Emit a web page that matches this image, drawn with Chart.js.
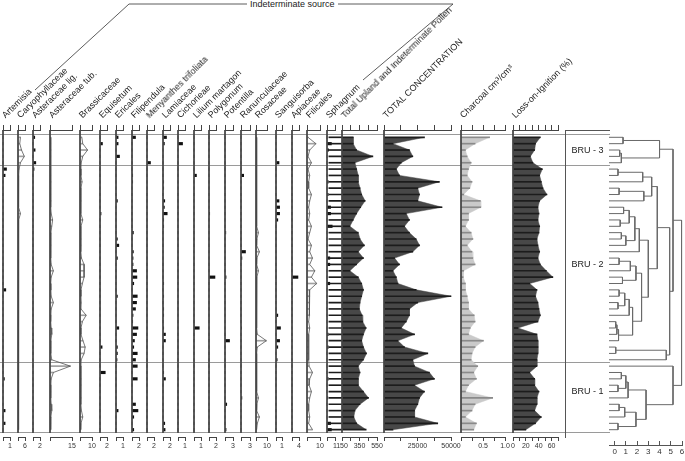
<!DOCTYPE html>
<html>
<head>
<meta charset="utf-8">
<script src="https://cdn.jsdelivr.net/npm/chart.js@4.4.1/dist/chart.umd.min.js"></script>
<style>
body { margin:0; background:#fff; font-family: Arial, "Liberation Sans", sans-serif; }
#page { position:relative; width:685px; height:461px; overflow:hidden; background:#fff; }
.box { position:absolute; }
.lbl { position:absolute; font-size:9px; line-height:10px; color:#222; white-space:nowrap; transform-origin:0 100%; transform:rotate(-45deg); }
.title { position:absolute; font-size:9px; line-height:10px; color:#222; white-space:nowrap; }
svg { position:absolute; left:0; top:0; }
</style>
</head>
<body>
<div id="page">
  <svg width="685" height="130">
    <polyline points="35,90 129,4 247,4" fill="none" stroke="#333" stroke-width="0.8"/>
    <polyline points="338,4 453,4 363,80" fill="none" stroke="#333" stroke-width="0.8"/>
  </svg>
  <div class="title" style="left:250px;top:-1px">Indeterminate source</div>
</div>
<script>
// sample number down the core (0 = top)
const depth = [0,1,2,3,4,5,6,7,8,9,10,11,12,13,14,15,16,17,18,19,20,21,22,23,24,25,26,27,28,29,30,31,32,33,34,35,36,37,38,39,40,41,42,43,44,45,46];

const zoneBounds = [-0.5, 4.5, 35.5, 46.5];
const zoneNames = ['BRU - 3', 'BRU - 2', 'BRU - 1'];
const zoneLabelAt = [2, 20, 40];

const artemisia = [0,0,0,0,0,.5,.3,0,0,0, 0,0,0,0,0,0,0,0,0,0, 0,0,0,0,.4,0,0,0,0,0, 0,0,0,0,0,0,0,0,.2,0, 0,0,0,.3,0,.3,0];
const caryophyllaceae = [2.1,1.5,3,5.4,2.1,.9,.6,.5,.5,.5, .5,.5,2.1,.6,.5,.5,.5,.5,.5,.5, .5,.5,.5,.5,.5,.5,.5,.5,.5,.5, .5,.5,.5,.5,.5,.5,.6,.5,.5,.5, .5,.5,.5,.5,.5,.5,.5];
const asteraceaeLig = [.5,0,.6,0,.8,.3,0,0,0,0, 0,0,0,0,0,0,0,0,0,0, 0,0,0,0,0,0,0,0,0,0, 0,0,0,0,0,0,0,0,0,0, 0,0,0,0,0,0,0];
const asteraceaeTub = [.5,.5,.6,.5,.4,.5,.5,.6,.5,.5, .6,.5,.8,1.8,1.2,.6,.5,.6,.5,.5, .8,2.3,.8,.5,.6,.8,2.3,.8,.6,.5, .8,1.2,.6,.5,.6,1.2,13.9,2.3,.8,.6, .5,.6,.8,1.2,.6,.5,.5];
const brassicaceae = [1.5,2.3,6.3,2.3,1,.8,.8,1.7,.8,.6, .8,.6,.8,2.3,.8,.6,.8,.8,.6,1.2, 3.4,3.4,3.4,2,.8,.8,1,.8,5.1,2, .8,.8,2.5,4.3,3.4,1,.8,.6,.8,.8, .6,.8,.8,1.2,2.3,.8,.6];
const equisetum = [0,.7,0,0,0,0,0,0,0,0, 0,0,.3,0,0,0,0,0,0,0, 0,0,0,0,0,0,0,0,0,0, 0,0,0,.6,0,0,0,1.5,0,0, 0,0,0,0,0,0,0];
const ericales = [.3,.3,0,.5,0,0,0,0,0,0, .2,0,0,0,0,0,.2,.4,0,.2, 0,0,0,0,0,.2,0,0,0,0, .4,0,0,.2,.2,.15,0,0,0,0, 0,0,0,.3,0,0,0];
const filipendula = [1,0,0,0,0,0,.2,.2,0,0, 0,0,0,0,0,.4,0,0,.4,.3, .3,1.3,1.4,.5,0,1.5,1.3,1,.3,.2, 1.7,1.3,.7,.5,1.5,1,1.5,0,1.5,0, 0,0,1,1.7,.5,0,.5];
const menyanthes = [0,0,0,0,1,0,0,0,0,0, 0,0,0,0,0,0,0,0,0,0, 0,0,0,0,0,0,0,0,0,0, 0,0,0,0,0,0,0,0,0,0, 0,0,0,0,0,0,0];
const lamiaceae = [1,.4,0,0,0,0,0,.2,.2,0, .5,.4,1.2,.2,.2,0,0,0,0,0, 0,0,0,.2,0,.2,0,.2,.2,0, .2,.7,.7,0,0,0,0,.2,.7,0, 0,0,0,0,0,.5,.6];
const cichorieae = [0,.65,0,0,0,0,0,0,0,0, 0,0,0,0,0,0,0,0,0,0, 0,0,0,0,0,0,0,0,0,0, 0,0,0,0,0,0,0,0,0,0, 0,0,0,0,0,0,0];
const lilium = [0,0,0,0,0,0,.35,0,0,0, 0,0,0,0,0,0,0,0,0,0, 0,0,0,0,0,0,0,0,0,0, .75,0,0,0,0,0,0,0,0,0, 0,0,0,0,0,0,0];
const polygonum = [0,0,0,0,0,0,0,0,0,0, 0,0,.2,0,0,0,0,0,0,0, 0,0,1.7,0,0,0,0,0,0,0, 0,0,0,0,0,0,0,0,0,0, 0,0,0,0,0,0,0];
const potentilla = [0,0,0,0,0,0,0,0,0,0, 0,0,0,0,0,.3,0,0,0,0, 0,0,.4,0,0,0,0,0,0,0, 0,0,1.7,0,0,0,0,0,0,0, 0,0,.65,0,0,0,.4];
const ranunculaceae = [0,0,0,0,0,0,.9,0,0,0, 0,0,0,0,0,0,0,0,1.5,.3, 0,0,0,0,0,0,0,0,0,0, .2,0,0,0,0,0,0,0,0,0, 0,.3,0,0,0,0,0];
const rosaceae = [.6,.6,.6,.6,.6,.6,.6,.6,.6,.6, .6,.6,.6,.6,.6,2.2,.8,.6,3.1,.8, .6,2.2,.8,.6,.6,.6,.6,.6,.6,.6, .6,1.2,9.4,1.2,.6,.6,.6,.6,.6,.6, .6,2.2,.8,.6,3.1,1.2,.6];
const sanguisorba = [0,0,0,0,.5,0,0,0,0,0, .5,.6,.6,.3,0,0,0,0,0,0, 0,0,0,0,0,0,0,0,.3,0, .75,0,.6,.3,0,.2,0,0,0,0, 0,0,0,0,0,0,0];
const apiaceae = [0,0,0,0,0,0,0,0,0,0, 0,0,0,0,0,0,0,0,0,0, 0,0,3.4,0,0,0,0,0,0,0, 0,0,0,0,0,0,0,0,0,0, 0,0,0,0,0,0,0];
const filicales = [.8,6.8,2.1,.8,3.4,.8,2.1,1.3,1.3,3.4, 2.1,1.3,2.1,1.3,3.4,2.1,.8,3.4,2.1,4.2, 2.1,6,3.4,7.4,2.1,2.1,1.6,1.6,2.1,1.3, 2.1,1.3,1.3,1.3,1.3,1.3,1.6,4.2,2.1,1.6, 3.4,2.1,1.3,1.3,2.1,1.3,4.2];
const sphagnum = [0,.55,.2,0,0,0,0,.15,0,.15, 0,.45,.45,0,.65,0,0,0,0,.35, .35,0,0,.35,0,0,0,0,0,0, 0,.15,0,.15,0,0,0,0,.15,0, 0,.1,0,0,0,.45,.55];

const totalUpland = [278,278,317,503,298,317,336,336,356,375, 414,364,317,278,240,336,356,406,336,395, 317,240,336,375,395,375,356,348,380,387, 426,395,375,395,430,395,336,356,336,336, 395,453,356,298,285,317,426];
const totalConc = [30200,6700,19000,21500,12900,9200,11600,41300,25200,26500, 25200,43300,16600,19000,15300,19000,24000,26500,21500,7900, 11600,6700,9200,10400,24000,50000,25200,19000,19000,16600, 12900,22800,10400,15300,32700,21500,22800,33900,37600,22800, 30200,26500,25200,22800,22800,40100,6700];
const charcoal = [0.65,0.32,0.10,0.14,0.23,0.17,0.14,0.25,0.20,0.06, 0.44,0.45,0.17,0.17,0.10,0.23,0.27,0.14,0.25,0.27, 0.32,0.06,0.05,0.10,0.10,0.14,0.17,0.17,0.30,0.32, 0.21,0.17,0.51,0.32,0.25,0.23,0.38,0.29,0.35,0.17, 0.10,0.72,0.32,0.25,0.10,0.35,0.29];
const loi = [42.5,35,33.7,27,31,45.6,41.4,44,46.6,52.8, 41.4,38.8,40.4,38.8,41.4,40.4,37.3,38.8,41.4,38.8, 42.5,51.8,62,26,37.3,35,38.8,40.4,42.5,38.8, 7.8,37.3,38.8,38.8,38.8,37.3,37.3,26,33.7,33.7, 40.4,37.3,37.3,33.7,44,35,20];

// CONISS merges: [node a, node b, total sum of squares]; leaves are 0..46, new nodes 47+
const coniss = [
  [0,1,0.75],[2,3,0.45],[48,4,0.6],[47,49,4.0],
  [5,6,0.3],[51,7,2.5],[8,9,0.4],[53,10,2.6],[52,54,3.3],
  [11,12,0.8],[13,14,0.5],[56,57,1.3],[15,16,0.6],[59,17,1.0],[58,60,1.8],[61,18,2.2],
  [19,20,0.4],[63,21,1.4],[22,23,0.7],[64,65,1.9],[24,25,0.4],[26,27,0.3],[67,68,0.9],[69,28,1.3],
  [29,30,0.1],[71,31,0.2],[72,32,0.35],[70,73,1.6],[66,74,2.4],[62,75,3.0],[55,76,3.8],
  [33,34,0.1],[78,35,4.6],[77,79,4.9],[50,80,5.2],
  [37,38,0.6],[39,40,0.3],[82,83,1.0],[84,41,1.2],[42,43,0.4],[86,44,0.9],[45,46,0.3],[87,88,1.9],[85,89,2.8],[36,90,5.2],
  [81,91,5.96]
];
const leafX = -0.5;

const panels = [
  {name:'Artemisia', data:artemisia, max:1, kind:'bar', x:3, w:7},
  {name:'Caryophyllaceae', data:caryophyllaceae, max:6, kind:'curve', x:18, w:7},
  {name:'Asteraceae lig.', data:asteraceaeLig, max:2, kind:'bar', x:33, w:7},
  {name:'Asteraceae tub.', data:asteraceaeTub, max:15, kind:'curve', x:50, w:22},
  {name:'Brassicaceae', data:brassicaceae, max:10, kind:'curve', x:80, w:12},
  {name:'Equisetum', data:equisetum, max:2, kind:'bar', x:100, w:7},
  {name:'Ericales', data:ericales, max:1, kind:'bar', x:116, w:7},
  {name:'Filipendula', data:filipendula, max:2, kind:'bar', x:132, w:7},
  {name:'Menyanthes trifoliata', data:menyanthes, max:2, kind:'bar', x:147, w:7},
  {name:'Lamiaceae', data:lamiaceae, max:2, kind:'bar', x:163, w:7},
  {name:'Cichorieae', data:cichorieae, max:1, kind:'bar', x:178, w:7},
  {name:'Lilium martagon', data:lilium, max:1, kind:'bar', x:194, w:7},
  {name:'Polygonum', data:polygonum, max:2, kind:'bar', x:209, w:7},
  {name:'Potentilla', data:potentilla, max:3, kind:'bar', x:225, w:8},
  {name:'Ranunculaceae', data:ranunculaceae, max:3, kind:'bar', x:241, w:9},
  {name:'Rosaceae', data:rosaceae, max:10, kind:'curve', x:256, w:11},
  {name:'Sanguisorba', data:sanguisorba, max:1, kind:'bar', x:276, w:6},
  {name:'Apiaceae', data:apiaceae, max:4, kind:'bar', x:292, w:7},
  {name:'Filicales', data:filicales, max:10, kind:'curve', x:307, w:13},
  {name:'Sphagnum', data:sphagnum, max:1, kind:'bar', x:327, w:8},
  {name:'Total Upland and Indeterminate Pollen', data:totalUpland, min:150, max:550,
   ticks:[150,250,350,450,550], shown:[150,350,550], kind:'area', fill:'#484848', hatch:'#1c1c1c', x:342, w:35},
  {name:'TOTAL CONCENTRATION', data:totalConc, min:0, max:50000,
   ticks:[0,12500,25000,37500,50000], shown:[25000,50000], kind:'area', fill:'#484848', hatch:'#1c1c1c', x:384, w:67},
  {name:'Charcoal cm\u00B3/cm\u00B3', data:charcoal, min:0, max:1,
   ticks:[0,0.25,0.5,0.75,1], shown:[0.5,1], fmt:v => v.toFixed(1), kind:'area', fill:'#cacaca', hatch:'#8a8a8a', x:461, w:44},
  {name:'Loss-on-Ignition (%)', data:loi, min:0, max:70,
   ticks:[0,10,20,30,40,50,60,70], shown:[0,20,40,60], kind:'area', fill:'#484848', hatch:'#1c1c1c', x:513, w:45}
];

Chart.defaults.font.family = 'Arial, "Liberation Sans", sans-serif';
Chart.defaults.color = '#333';
Chart.defaults.animation = false;
Chart.defaults.events = [];
Chart.defaults.plugins.legend.display = false;
Chart.defaults.plugins.tooltip.enabled = false;

const page = document.getElementById('page');
const TOP = 124, TOP_AX = 6, BOT_AX = 18, AREA_H = 307;
const yMin = -1.15, yMax = 47.15;

function addBox(left, top, width, height) {
  const box = document.createElement('div');
  box.className = 'box';
  box.style.cssText = 'left:' + left + 'px;top:' + top + 'px;width:' + width + 'px;height:' + height + 'px';
  const cv = document.createElement('canvas');
  box.appendChild(cv);
  page.appendChild(box);
  return cv;
}

// zone lines across all the panels
new Chart(addBox(0, TOP, 610, TOP_AX + AREA_H + BOT_AX), {
  type: 'scatter',
  data: { datasets: [] },
  options: {
    responsive: true, maintainAspectRatio: false,
    layout: { padding: { top: TOP_AX, bottom: BOT_AX, left: 0, right: 0 } },
    scales: {
      x: { display: false },
      y: { min: yMin, max: yMax, reverse: true, ticks: { display: false }, border: { display: false },
           grid: { color: '#9a9a9a', drawTicks: false },
           afterBuildTicks: s => { s.ticks = zoneBounds.map(v => ({ value: v })); },
           afterFit: s => { s.width = 0; } }
    }
  }
});

function drawPanel(p) {
  const pad = 14;
  const lo = p.min || 0;
  const tickVals = p.ticks || [lo, p.max];
  const shown = p.shown || [p.max];
  const fmt = p.fmt || (v => String(v));
  const pts = p.data.map((v, i) => ({ x: v, y: depth[i] }));
  const common = { indexAxis: 'y', xAxisID: 'x', yAxisID: 'y', clip: false };
  const sets = [{ ...common, type: 'line', data: [{ x: lo, y: yMin }, { x: lo, y: zoneBounds[zoneBounds.length - 1] }],
                  borderColor: '#444', borderWidth: 1, pointRadius: 0, order: 0 }];
  if (p.kind === 'bar') {
    sets.push({ ...common, type: 'bar', data: pts, backgroundColor: '#111', barThickness: 2.5, borderWidth: 0, order: 1 });
  } else if (p.kind === 'curve') {
    sets.push({ ...common, type: 'bar', data: pts, backgroundColor: '#a0a0a0', barThickness: 1, borderWidth: 0, order: 2 });
    sets.push({ ...common, type: 'line', data: pts, borderColor: '#555', borderWidth: 0.8, pointRadius: 0, tension: 0, order: 1 });
  } else {
    sets.push({ ...common, type: 'bar', data: pts, backgroundColor: p.hatch, barThickness: 1, borderWidth: 0, order: 1 });
    sets.push({ ...common, type: 'line', data: pts, borderColor: p.fill, backgroundColor: p.fill, borderWidth: 0.5,
                pointRadius: 0, tension: 0, fill: { value: lo }, order: 2 });
  }
  const axisBase = {
    type: 'linear', min: lo, max: p.max,
    border: { color: '#444' },
    afterBuildTicks: s => { s.ticks = tickVals.map(v => ({ value: v })); }
  };
  new Chart(addBox(p.x - pad, TOP, p.w + 2 * pad, TOP_AX + AREA_H + BOT_AX), {
    type: 'bar',
    data: { datasets: sets },
    options: {
      responsive: true, maintainAspectRatio: false, indexAxis: 'y',
      layout: { padding: { left: pad, right: pad, top: 0, bottom: 0 } },
      scales: {
        x: { ...axisBase, position: 'bottom',
             grid: { drawOnChartArea: false, tickLength: 4, color: '#444' },
             ticks: { autoSkip: false, maxRotation: 0, minRotation: 0, padding: 1, font: { size: 7 }, color: '#333',
                      callback: v => shown.includes(v) ? fmt(v) : '' },
             afterFit: s => { s.height = BOT_AX; s.paddingLeft = 0; s.paddingRight = 0; } },
        xTop: { ...axisBase, position: 'top',
                grid: { drawOnChartArea: false, tickLength: 5, color: '#444' },
                ticks: { display: false },
                afterFit: s => { s.height = TOP_AX; s.paddingLeft = 0; s.paddingRight = 0; } },
        y: { type: 'linear', min: yMin, max: yMax, reverse: true, display: false, offset: false, grid: { offset: false } }
      }
    }
  });
  const lab = document.createElement('div');
  lab.className = 'lbl';
  lab.textContent = p.name;
  lab.style.left = (p.x + 4) + 'px';
  lab.style.top = '109.5px';
  page.appendChild(lab);
}
panels.forEach(drawPanel);

// zone column
new Chart(addBox(565, TOP, 45, TOP_AX + AREA_H + BOT_AX), {
  type: 'scatter',
  data: { datasets: [] },
  options: {
    responsive: true, maintainAspectRatio: false,
    layout: { padding: { top: TOP_AX, bottom: BOT_AX, left: 0, right: 0 } },
    scales: {
      x: { display: false },
      xTop: { position: 'top', type: 'linear', min: 0, max: 1, grid: { display: false }, ticks: { display: false },
              border: { color: '#555' }, afterFit: s => { s.height = 0; } },
      y: { min: yMin, max: yMax, reverse: true, grid: { display: false }, ticks: { display: false },
           border: { color: '#555' }, afterFit: s => { s.width = 0; } },
      y2: { position: 'right', min: yMin, max: yMax, reverse: true, grid: { display: false }, ticks: { display: false },
            border: { color: '#555' }, afterFit: s => { s.width = 0; } }
    }
  },
  plugins: [{
    id: 'zoneLabels',
    afterDraw(c) {
      const ctx = c.ctx, ys = c.scales.y, a = c.chartArea;
      ctx.save();
      ctx.font = '9px Arial, "Liberation Sans", sans-serif';
      ctx.fillStyle = '#222';
      ctx.textAlign = 'center';
      ctx.textBaseline = 'middle';
      zoneNames.forEach((n, k) => ctx.fillText(n, (a.left + a.right) / 2, ys.getPixelForValue(zoneLabelAt[k])));
      ctx.restore();
    }
  }]
});

// CONISS dendrogram
const nodeX = depth.map(() => leafX);
const nodeY = depth.slice();
const dendroSets = coniss.map(([a, b, h]) => {
  nodeX.push(h);
  nodeY.push((nodeY[a] + nodeY[b]) / 2);
  return {
    data: [{ x: nodeX[a], y: nodeY[a] }, { x: h, y: nodeY[a] }, { x: h, y: nodeY[b] }, { x: nodeX[b], y: nodeY[b] }],
    showLine: true, borderColor: '#6a6a6a', borderWidth: 1, pointRadius: 0, clip: false
  };
});
const DENDRO_AREA = 315, DENDRO_AX = 14;
new Chart(addBox(609, TOP, 76, TOP_AX + DENDRO_AREA + DENDRO_AX), {
  type: 'scatter',
  data: { datasets: dendroSets },
  options: {
    responsive: true, maintainAspectRatio: false,
    layout: { padding: { top: TOP_AX, left: 0, right: 3, bottom: 0 } },
    scales: {
      x: { type: 'linear', min: leafX, max: 6, position: 'bottom',
           grid: { drawOnChartArea: false, tickLength: -4, color: '#555' }, border: { color: '#555' },
           ticks: { autoSkip: false, maxRotation: 0, padding: 6, font: { size: 8 }, color: '#333' },
           afterBuildTicks: s => { s.ticks = [0, 1, 2, 3, 4, 5, 6].map(v => ({ value: v })); },
           afterFit: s => { s.height = DENDRO_AX; s.paddingLeft = 0; s.paddingRight = 0; } },
      y: { type: 'linear', min: yMin, max: 46 + (445 - 429.7) / 6.356, reverse: true, display: false }
    }
  }
});
</script>
</body>
</html>
